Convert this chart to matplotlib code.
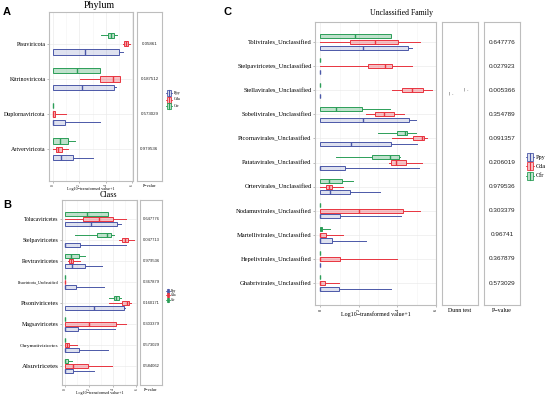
import matplotlib
matplotlib.use('Agg')
import matplotlib.pyplot as plt
from matplotlib.patches import Rectangle

# ---------------- data ----------------
groups = ["Ppy", "Cda", "Cfr"]

# Panel A (Phylum) -- stats per category: [whislo, q1, median, q3, whishi]
A_cats = ["Pisuviricota", "Kitrinoviricota", "Duplornaviricota", "Artverviricota"]
A_pvals = ["0.05861", "0.187512", "0.573029", "0.979536"]
A_ppy = [[0, 0, 2.45, 4.96, 5.31], [0, 0, 2.23, 4.6, 4.78], [0, 0, 0, 0.9, 3.58], [0, 0, 0.6, 1.5, 3.05]]
A_cda = [[5.26, 5.36, 5.51, 5.71, 5.81], [2.05, 3.56, 4.58, 5.1, 5.1], [0, 0, 0.05, 0.2, 0.97], [0, 0.22, 0.42, 0.7, 1.17]]
A_cfr = [[3.63, 4.13, 4.38, 4.61, 4.88], [0, 0, 1.8, 3.55, 3.55], [0, 0, 0, 0, 0], [0, 0, 0.52, 1.17, 1.7]]

# Panel B (Class)
B_cats = ["Tolucaviricetes", "Stelpaviricetes", "Revtraviricetes", "Pisuviricota_Unclassified",
          "Pisoniviricetes", "Magsaviricetes", "Chrymotiviricetes", "Alsuviricetes"]
B_pvals = ["0.647776", "0.047713", "0.979536", "0.367879", "0.160171", "0.303379", "0.573029", "0.584062"]
B_ppy = [[0, 0, 2.16, 4.36, 4.73], [0, 0, 0, 1.27, 5.1], [0, 0, 0.55, 1.62, 3.09], [0, 0, 0, 0.87, 3.29],
         [0, 0, 2.42, 4.94, 5.05], [0, 0, 0, 1.07, 4.16], [0, 0, 0, 1.13, 3.64], [0, 0, 0, 0.63, 2.42]]
B_cda = [[0, 1.5, 2.86, 4.0, 5.1], [4.5, 4.82, 5.05, 5.31, 5.8], [0.2, 0.32, 0.49, 0.66, 1.24], [0, 0, 0, 0, 0],
         [3.72, 4.79, 5.17, 5.4, 5.51], [0, 0, 1.99, 4.3, 5.1], [0, 0, 0.1, 0.35, 0.98], [0, 0, 0.63, 1.93, 3.95]]
B_cfr = [[0, 0, 1.79, 3.61, 3.61], [0.84, 2.71, 3.55, 3.87, 4.07], [0, 0, 0.46, 1.18, 1.7], [0, 0, 0, 0, 0],
         [3.67, 4.07, 4.3, 4.53, 4.73], [0, 0, 0, 0, 0], [0, 0, 0, 0, 0], [0, 0, 0, 0.2, 0.55]]

# Panel C (Unclassified Family)
C_cats = ["Tolivirales_Unclassified", "Stelpaviricetes_Unclassified", "Stellavirales_Unclassified",
          "Sobelivirales_Unclassified", "Picornavirales_Unclassified", "Patatavirales_Unclassified",
          "Ortervirales_Unclassified", "Nodamuvirales_Unclassified", "Martellivirales_Unclassified",
          "Hepelivirales_Unclassified", "Ghabrivirales_Unclassified"]
C_pvals = ["0.647776", "0.027923", "0.005366", "0.354789", "0.091357", "0.206019",
           "0.979536", "0.303379", "0.96741", "0.367879", "0.573029"]
C_ppy = [[0, 0, 2.22, 4.55, 4.78], [0, 0, 0, 0, 0], [0, 0, 0, 0, 0], [0, 0, 2.22, 4.59, 4.94],
         [0, 0, 1.61, 3.69, 5.02], [0, 0, 0, 1.26, 5.13], [0, 0, 0.52, 1.56, 3.08], [0, 0, 0, 1.04, 4.16],
         [0, 0, 0, 0.61, 2.39], [0, 0, 0, 0, 0], [0, 0, 0, 0.94, 3.65]]
C_cda = [[0, 1.52, 2.84, 4.03, 5.19], [0, 2.49, 3.34, 3.74, 4.73], [3.74, 4.21, 4.74, 5.3, 5.77],
         [2.39, 2.82, 3.29, 3.84, 4.35], [3.74, 4.81, 5.25, 5.39, 5.54], [3.55, 3.69, 3.91, 4.42, 5.28],
         [0, 0.28, 0.43, 0.62, 1.18], [0, 0, 1.99, 4.29, 5.16], [0, 0, 0, 0.31, 1.18],
         [0, 0, 0, 1.0, 3.98], [0, 0, 0, 0.26, 0.97]]
C_cfr = [[0, 0, 1.78, 3.64, 3.64], [0, 0, 0, 0, 0], [0, 0, 0, 0, 0], [0, 0, 0.83, 2.18, 3.6],
         [3.0, 3.98, 4.38, 4.52, 4.95], [0.83, 2.7, 3.6, 4.09, 4.12], [0, 0, 0.43, 1.13, 1.7],
         [0, 0, 0, 0, 0], [0, 0, 0.03, 0.1, 0.48], [0, 0, 0, 0, 0], [0, 0, 0, 0, 0]]

x_ticks = [0, 2, 4, 6]

# ---------------- style ----------------
W, H = 550, 397
COL = {"Ppy": "#4B58A8", "Cda": "#E8343F", "Cfr": "#2C9E58"}
LIGHT = {"Ppy": (0.29, 0.35, 0.66, 0.18), "Cda": (0.91, 0.2, 0.25, 0.30), "Cfr": (0.17, 0.62, 0.35, 0.30)}
OFF = {"Ppy": -0.235, "Cda": 0.0, "Cfr": 0.235}
SERIF = "Liberation Serif"
SANS = "Liberation Sans"
SPINE = "#BDBDBD"

fig = plt.figure(figsize=(5.5, 3.97), dpi=100)


def axes_px(l, t, r, b):
    return fig.add_axes([l / W, 1 - b / H, (r - l) / W, (b - t) / H])


def style_frame(ax):
    for s in ax.spines.values():
        s.set_color(SPINE)
        s.set_linewidth(0.8)


def draw_main(ax, cats, data, xlim, ylim, bw, lab_fs, tick_fs, xl_fs, lab_sizes=None):
    n = len(cats)
    ypos = [n - i for i in range(n)]
    for g in groups:
        stats = [dict(whislo=d[0], q1=d[1], med=d[2], q3=d[3], whishi=d[4], fliers=[]) for d in data[g]]
        ax.bxp(stats, positions=[y + OFF[g] for y in ypos], widths=bw, orientation='horizontal',
               patch_artist=True, showfliers=False, showcaps=False,
               boxprops=dict(facecolor=LIGHT[g], edgecolor=COL[g], linewidth=0.7),
               medianprops=dict(color=COL[g], linewidth=1.0, solid_capstyle='butt'),
               whiskerprops=dict(color=COL[g], linewidth=0.7))
    ax.set_xlim(*xlim)
    ax.set_ylim(*ylim)
    ax.set_yticks(ypos)
    ax.set_yticklabels(cats, fontfamily=SERIF, fontsize=lab_fs)
    if lab_sizes is not None:
        for t, s in zip(ax.get_yticklabels(), lab_sizes):
            t.set_fontsize(s)
    ax.set_xticks(x_ticks)
    ax.set_xticklabels([str(v) for v in x_ticks], rotation=90, fontfamily=SERIF, fontsize=tick_fs)
    ax.set_xticks([1, 3, 5], minor=True)
    ax.tick_params(axis='both', which='major', length=1.5, width=0.4, color='#888888', pad=1)
    ax.tick_params(axis='x', which='minor', length=0)
    ax.set_axisbelow(True)
    ax.grid(True, which='major', color='#EBEBEB', linewidth=0.5)
    ax.grid(True, which='minor', axis='x', color='#F4F4F4', linewidth=0.4)
    ax.set_xlabel("Log10\u2212transformed value+1", fontfamily=SERIF, fontsize=xl_fs, labelpad=0.5)
    style_frame(ax)
    return ypos


def draw_side(ax, ypos, texts, ylim, fs, xl_fs, label):
    ax.set_xlim(0, 1)
    ax.set_ylim(*ylim)
    ax.set_xticks([])
    ax.set_yticks([])
    if texts is not None:
        for y, t in zip(ypos, texts):
            ax.text(0.5, y, t, ha='center', va='center', fontfamily=SANS, fontsize=fs, color='#222222')
    ax.set_xlabel(label, fontfamily=SERIF, fontsize=xl_fs, labelpad=2.2)
    style_frame(ax)


# ---- Panel A ----
axA = axes_px(49, 12, 133, 181)
ylimA = (0.1, 4.9)
yA = draw_main(axA, A_cats, {"Ppy": A_ppy, "Cda": A_cda, "Cfr": A_cfr}, (-0.28, 6.05), ylimA,
               0.15, 4.3, 2.4, 3.0)
axAp = axes_px(137, 12, 162, 181)
draw_side(axAp, yA, A_pvals, ylimA, 3.2, 3.0, "P\u2212value")

# ---- Panel B ----
axB = axes_px(62, 200, 137, 385)
ylimB = (0.1, 8.9)
yB = draw_main(axB, B_cats, {"Ppy": B_ppy, "Cda": B_cda, "Cfr": B_cfr}, (-0.28, 6.05), ylimB,
               0.17, 4.2, 2.4, 3.0, lab_sizes=[4.1, 4.3, 4.3, 2.9, 4.6, 4.3, 3.9, 5.0])
axBp = axes_px(140, 200, 162, 385)
draw_side(axBp, yB, B_pvals, ylimB, 3.0, 3.0, "P\u2212value")

# ---- Panel C ----
axC = axes_px(315, 22, 436, 305)
ylimC = (0.09, 11.83)
yC = draw_main(axC, C_cats, {"Ppy": C_ppy, "Cda": C_cda, "Cfr": C_cfr}, (-0.28, 5.98), ylimC,
               0.17, 4.7, 3.2, 4.3)
axCd = axes_px(442, 22, 478, 305)
draw_side(axCd, yC, None, ylimC, 4.7, 4.3, "Dunn test")
axCd.text(0.25, yC[2] - 0.15, "| -", ha='center', va='center', fontsize=3.2, color='#444444')
axCd.text(0.66, yC[2] + 0.05, "| -", ha='center', va='center', fontsize=3.2, color='#444444')
axCp = axes_px(484, 22, 520, 305)
draw_side(axCp, yC, C_pvals, ylimC, 4.6, 4.3, "P\u2212value")

# ---- overlay: letters, titles, legends ----
ov = fig.add_axes([0, 0, 1, 1])
ov.set_xlim(0, W)
ov.set_ylim(H, 0)
ov.axis('off')
ov.patch.set_visible(False)

ov.text(7, 12, "A", fontsize=8, fontweight='bold', fontfamily=SANS, ha='center', va='center')
ov.text(7, 205, "B", fontsize=8, fontweight='bold', fontfamily=SANS, ha='center', va='center')
ov.text(228, 12, "C", fontsize=8, fontweight='bold', fontfamily=SANS, ha='center', va='center')
ov.text(99, 6, "Phylum", fontsize=7.2, fontfamily=SERIF, ha='center', va='center')
ov.text(108, 195, "Class", fontsize=5.8, fontfamily=SERIF, ha='center', va='center')
ov.text(401, 13, "Unclassified Family", fontsize=5.6, fontfamily=SERIF, ha='center', va='center')


def legend(x, ys, w, h, fs, tx):
    for g, y in zip(groups, ys):
        ov.add_patch(Rectangle((x - w * 0.35, y - h / 2), w * 0.7, h, facecolor=LIGHT[g],
                               edgecolor=COL[g], linewidth=0.6))
        ov.plot([x, x], [y - h / 2, y + h / 2], color=COL[g], linewidth=0.8)
        ov.plot([x - w / 2, x - w * 0.35], [y, y], color=COL[g], linewidth=0.6)
        ov.plot([x + w * 0.35, x + w / 2], [y, y], color=COL[g], linewidth=0.6)
        ov.text(tx, y, g, fontsize=fs, fontfamily=SERIF, ha='left', va='center')


legend(169, [92.7, 99.5, 106.3], 5.5, 6, 3.2, 173.5)
legend(168, [290.7, 295.3, 300], 4, 4.2, 2.5, 171)
legend(530, [157, 166.3, 175.5], 8, 8, 4.5, 536)

fig.savefig("out.png", dpi=100)
